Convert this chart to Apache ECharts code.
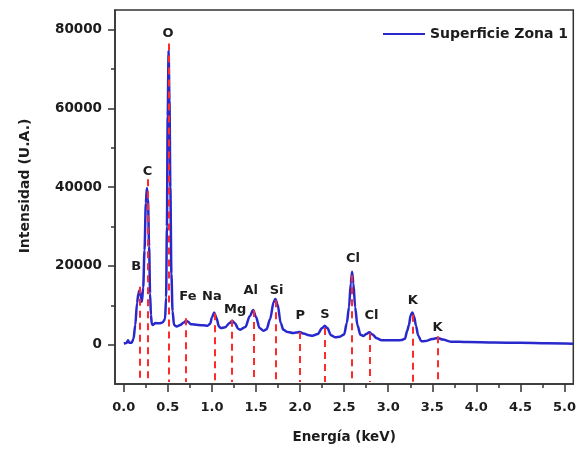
<!DOCTYPE html>
<html><head><meta charset="utf-8">
<script src="https://cdn.jsdelivr.net/npm/echarts@6/dist/echarts.min.js"></script>
<style>html,body{margin:0;padding:0;background:#fff}#c{width:579px;height:449px}</style>
</head><body><div id="c"></div>
<script>
// Spectrum (energy in keV, intensity in U.A.)
const energy = [0.0,0.03,0.048,0.06,0.09,0.11,0.13,0.15,0.165,0.178,0.19,0.205,0.22,0.235,0.25,0.262,0.274,0.287,0.298,0.308,0.318,0.33,0.36,0.4,0.44,0.468,0.48,0.489,0.498,0.508,0.518,0.528,0.54,0.553,0.57,0.6,0.64,0.68,0.708,0.73,0.76,0.8,0.85,0.9,0.95,0.98,1.0,1.026,1.05,1.08,1.1,1.15,1.2,1.23,1.26,1.3,1.32,1.38,1.43,1.468,1.5,1.54,1.585,1.62,1.66,1.7,1.72,1.745,1.78,1.81,1.86,1.92,1.96,1.995,2.04,2.1,2.14,2.2,2.25,2.28,2.31,2.35,2.4,2.45,2.5,2.53,2.555,2.575,2.59,2.605,2.625,2.65,2.685,2.72,2.75,2.785,2.82,2.87,2.927,3.0,3.1,3.15,3.19,3.215,3.235,3.255,3.274,3.295,3.315,3.34,3.375,3.42,3.5,3.56,3.62,3.71,3.9,4.2,4.5,4.8,5.1];
const intensity = [300,400,1100,500,500,1500,5000,10500,13000,13800,12500,10900,14500,24000,36000,39800,37000,25000,13000,7500,5200,5000,5500,5400,5600,6500,12000,30000,58000,74700,62000,40000,18000,8500,5000,4600,5000,5600,6050,5800,5200,5100,5000,4900,4790,5300,6900,8160,6800,4600,4200,4400,5500,6050,5400,4000,3780,4500,7300,8800,7000,4200,3530,3900,6500,10800,11600,10200,5500,3780,3200,2950,3050,3200,2800,2400,2270,2700,4200,4790,4200,2400,1860,2000,2600,5500,9500,15500,18500,15500,9500,5000,2500,2200,2700,3120,2600,1600,1100,1100,1100,1150,1500,3500,5000,7500,8160,7000,4800,2300,860,900,1400,1690,1300,760,650,550,450,350,250];
// Element lines
const peakNames = ['B','C','O','Fe','Na','Mg','Al','Si','P','S','Cl','Cl','K','K'];
const peakEnergy = [0.179,0.268,0.507,0.708,1.03,1.23,1.47,1.72,1.995,2.28,2.59,2.785,3.274,3.56];
const peakTop = [14700,42000,76500,6700,8000,6300,8800,11300,3200,4200,17600,2950,7560,2100];
const labelEnergy = [0.14,0.268,0.503,0.727,1.0,1.264,1.44,1.734,2.002,2.282,2.6,2.81,3.28,3.56];
const labelIntensity = [19900,44000,79000,12100,12100,8800,13600,13800,7400,7600,21800,7300,11200,4300];
const lineBottom = -9500;
// Axes
const xMajorTicks = [0,0.5,1,1.5,2,2.5,3,3.5,4,4.5,5];
const xMinorTicks = [0.25,0.75,1.25,1.75,2.25,2.75,3.25,3.75,4.25,4.75];
const yMajorTicks = [0,20000,40000,60000,80000];
const yMinorTicks = [10000,30000,50000,70000];
const seriesName = 'Superficie Zona 1';
const xTitle = 'Energía (keV)';
const yTitle = 'Intensidad (U.A.)';

const FONT = 'DejaVu Sans';
const DARK = '#1c1c1c';
const chart = echarts.init(document.getElementById('c'), null, {renderer: 'canvas'});
const axisLine = {show: true, onZero: false, lineStyle: {color: '#333', width: 1.5}};
const noLine = {show: false, onZero: false};
const xBase = {type: 'value', min: -0.1, max: 5.1, gridIndex: 0, splitLine: {show: false}};
const yBase = {type: 'value', min: -10000, max: 85000, gridIndex: 0, splitLine: {show: false}};
chart.setOption({
  animation: false,
  backgroundColor: '#fff',
  grid: {left: 115, right: -2, top: 10, bottom: 62, show: true, borderColor: '#333', borderWidth: 1.5, containLabel: false},
  legend: {
    data: [seriesName], left: 378, top: 22, itemWidth: 42, itemHeight: 2, itemGap: 5, icon: 'rect',
    textStyle: {fontFamily: FONT, fontWeight: 'bold', fontSize: 14, color: DARK}
  },
  xAxis: [
    Object.assign({}, xBase, {
      position: 'bottom', axisLine: axisLine,
      axisTick: {show: true, customValues: xMajorTicks, length: 8, lineStyle: {color: '#333', width: 1.5}},
      axisLabel: {show: true, customValues: xMajorTicks, formatter: v => v.toFixed(1), margin: 17,
        fontFamily: FONT, fontWeight: 'bold', fontSize: 13, color: DARK},
      name: xTitle, nameLocation: 'middle', nameGap: 46,
      nameTextStyle: {fontFamily: FONT, fontWeight: 'bold', fontSize: 13.5, color: DARK}
    }),
    Object.assign({}, xBase, {
      position: 'bottom', axisLine: noLine,
      axisTick: {show: true, customValues: xMinorTicks, length: 4, lineStyle: {color: '#333', width: 1.5}},
      axisLabel: {show: false}
    })
  ],
  yAxis: [
    Object.assign({}, yBase, {
      position: 'left', axisLine: axisLine,
      axisTick: {show: true, customValues: yMajorTicks, length: 7, lineStyle: {color: '#333', width: 1.5}},
      axisLabel: {show: true, customValues: yMajorTicks, margin: 13, formatter: v => String(v),
        fontFamily: FONT, fontWeight: 'bold', fontSize: 13.5, color: DARK}
    }),
    Object.assign({}, yBase, {
      position: 'left', axisLine: noLine,
      axisTick: {show: true, customValues: yMinorTicks, length: 4, lineStyle: {color: '#333', width: 1.5}},
      axisLabel: {show: false}
    })
  ],
  graphic: [{
    type: 'text', x: 25, y: 186, rotation: Math.PI / 2,
    style: {text: yTitle, fontFamily: FONT, fontWeight: 'bold', fontSize: 14, fill: DARK,
      textAlign: 'center', textVerticalAlign: 'middle'}
  }],
  series: [
    {
      name: seriesName, type: 'line', xAxisIndex: 0, yAxisIndex: 0,
      data: energy.map((e, i) => [e, intensity[i]]),
      symbol: 'none', smooth: 0.3, smoothMonotone: 'x',
      lineStyle: {color: '#2828cc', width: 2.5}, itemStyle: {color: '#2828cc'},
      markLine: {
        silent: true, symbol: ['none', 'none'], animation: false,
        label: {show: false},
        lineStyle: {color: '#ff2b2b', type: [7, 5], width: 2},
        data: peakEnergy.map((e, i) => [{coord: [e, peakTop[i]]}, {coord: [e, lineBottom]}])
      },
      z: 2
    },
    {
      name: 'labels', type: 'scatter', xAxisIndex: 0, yAxisIndex: 0,
      symbolSize: 0, itemStyle: {color: 'rgba(0,0,0,0)'}, silent: true,
      data: labelEnergy.map((e, i) => ({name: peakNames[i], value: [e, labelIntensity[i]]})),
      label: {show: true, position: 'inside', formatter: p => p.name, opacity: 1,
        fontFamily: FONT, fontWeight: 'bold', fontSize: 13, color: DARK},
      labelLayout: {hideOverlap: false},
      z: 5
    }
  ]
});
</script>
</body></html>
